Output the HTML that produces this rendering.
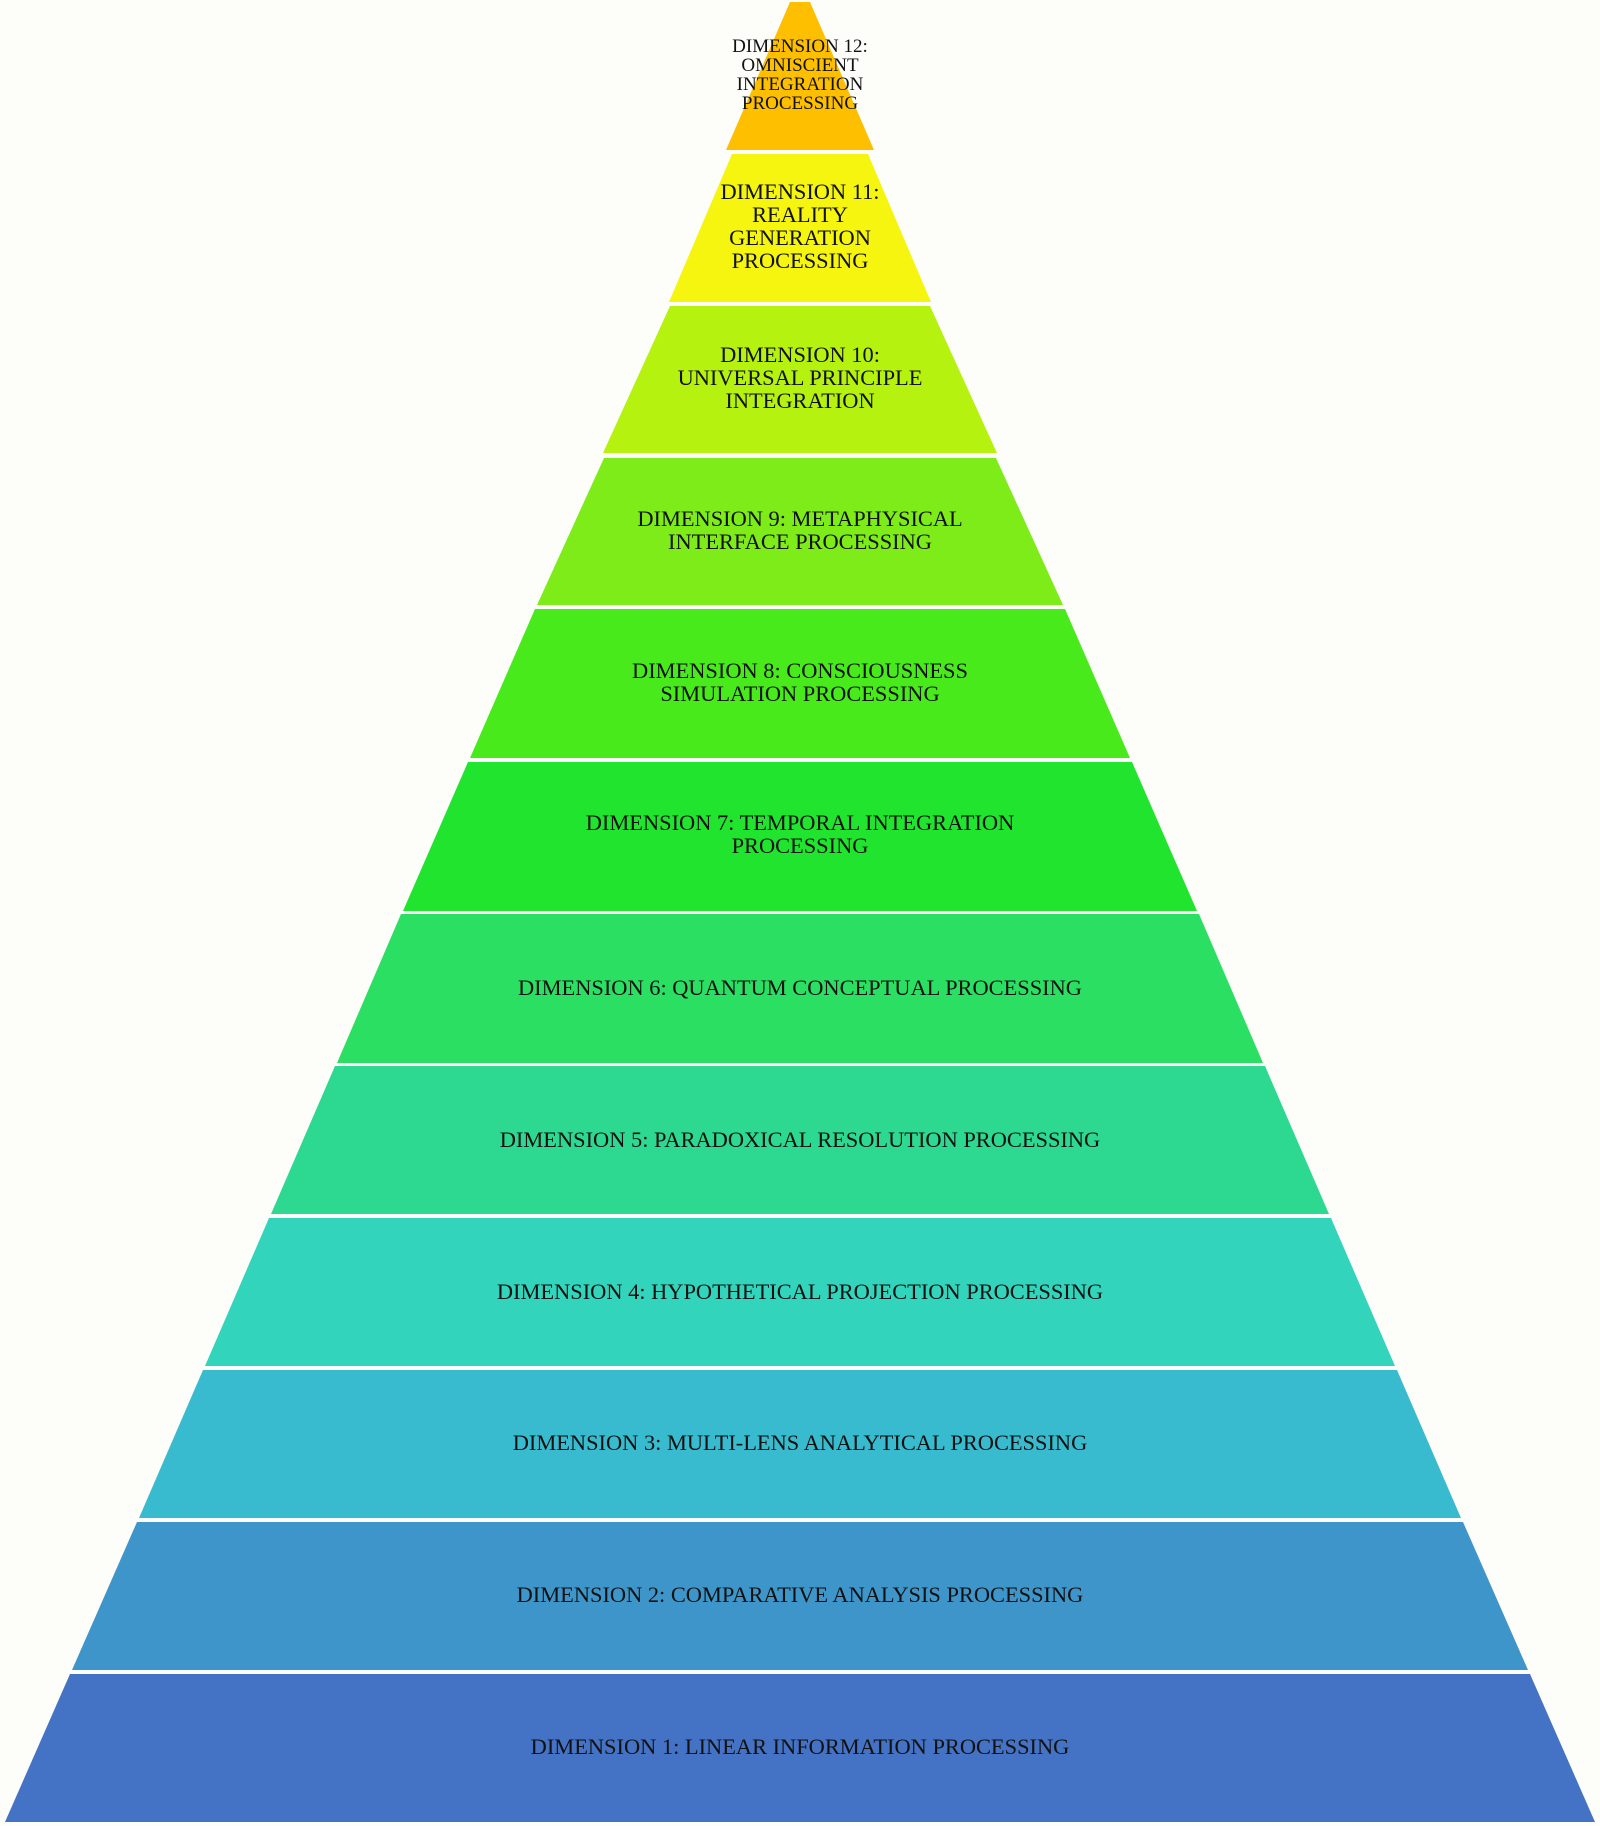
<!DOCTYPE html>
<html><head><meta charset="utf-8"><style>
html,body{margin:0;padding:0;background:#FDFDFA;}
svg{display:block;}
text{font-family:"Liberation Serif",serif;fill:#111;}
</style></head><body>
<svg width="1600" height="1826" viewBox="0 0 1600 1826" xmlns="http://www.w3.org/2000/svg">
<rect width="1600" height="1826" fill="#FDFDFA"/>
<polygon points="790,2 810,2 874,150 726,150" fill="#FDBF00"/>
<polygon points="732,154 868,154 931,302 669,302" fill="#F5F50F"/>
<polygon points="670,306 930,306 997,453 603,453" fill="#B5F20F"/>
<polygon points="604,458 996,458 1063,605 537,605" fill="#7EEC19"/>
<polygon points="535,609 1065,609 1130,758 470,758" fill="#48EA1C"/>
<polygon points="468,762 1132,762 1197,911 403,911" fill="#20E42E"/>
<polygon points="401,914 1199,914 1263,1063 337,1063" fill="#2ADF62"/>
<polygon points="335,1066 1265,1066 1329,1214 271,1214" fill="#2DD891"/>
<polygon points="269,1218 1331,1218 1395,1366 205,1366" fill="#33D4BC"/>
<polygon points="203,1370 1397,1370 1461,1518 139,1518" fill="#38BBCE"/>
<polygon points="137,1522 1463,1522 1528,1670 72,1670" fill="#3E95CA"/>
<polygon points="70,1674 1530,1674 1595,1822 5,1822" fill="#4472C4"/>
<g text-anchor="middle" font-size="19">
<text x="800" y="52">DIMENSION 12:</text>
<text x="800" y="71">OMNISCIENT</text>
<text x="800" y="90">INTEGRATION</text>
<text x="800" y="109">PROCESSING</text>
</g>
<g text-anchor="middle" font-size="22.4">
<text x="800" y="199">DIMENSION 11:</text>
<text x="800" y="222">REALITY</text>
<text x="800" y="245">GENERATION</text>
<text x="800" y="268">PROCESSING</text>
<text x="800" y="362">DIMENSION 10:</text>
<text x="800" y="385">UNIVERSAL PRINCIPLE</text>
<text x="800" y="408">INTEGRATION</text>
<text x="800" y="526">DIMENSION 9: METAPHYSICAL</text>
<text x="800" y="549">INTERFACE PROCESSING</text>
<text x="800" y="678">DIMENSION 8: CONSCIOUSNESS</text>
<text x="800" y="701">SIMULATION PROCESSING</text>
<text x="800" y="830">DIMENSION 7: TEMPORAL INTEGRATION</text>
<text x="800" y="853">PROCESSING</text>
<text x="800" y="995">DIMENSION 6: QUANTUM CONCEPTUAL PROCESSING</text>
<text x="800" y="1147">DIMENSION 5: PARADOXICAL RESOLUTION PROCESSING</text>
<text x="800" y="1299">DIMENSION 4: HYPOTHETICAL PROJECTION PROCESSING</text>
<text x="800" y="1450">DIMENSION 3: MULTI-LENS ANALYTICAL PROCESSING</text>
<text x="800" y="1602">DIMENSION 2: COMPARATIVE ANALYSIS PROCESSING</text>
<text x="800" y="1754">DIMENSION 1: LINEAR INFORMATION PROCESSING</text>
</g>
</svg>
</body></html>
